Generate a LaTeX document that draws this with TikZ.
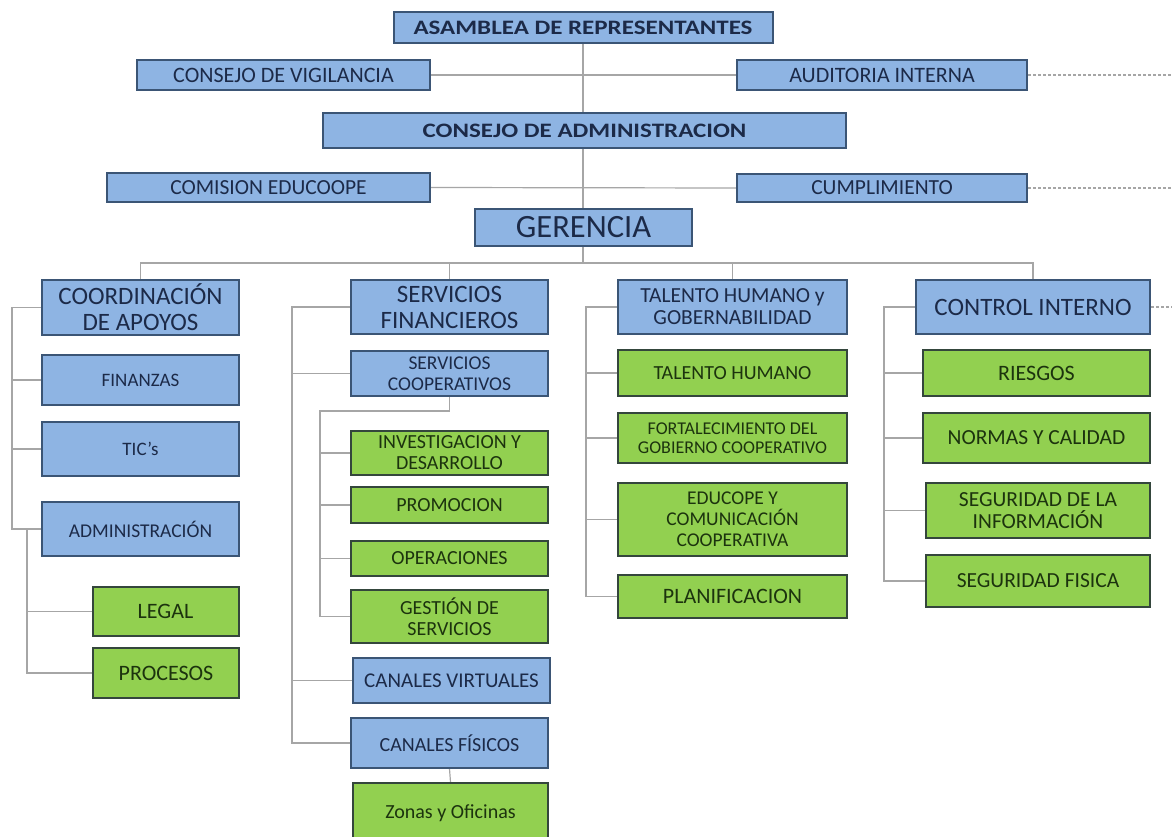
\documentclass[tikz,border=0pt]{standalone}
\usepackage{fontspec}
\setmainfont{Carlito}
\newfontfamily\titlefont{Carlito}[FakeStretch=1.22]
\usetikzlibrary{backgrounds}

\definecolor{boxblue}{HTML}{8EB4E3}
\definecolor{edgeblue}{HTML}{3B5575}
\definecolor{txtblue}{HTML}{1C2A48}
\definecolor{boxgreen}{HTML}{92D050}
\definecolor{edgegreen}{HTML}{34463C}
\definecolor{txtgreen}{HTML}{1C330E}
\definecolor{linegray}{HTML}{A6A6A6}

\tikzset{
  box/.style={draw, line width=2pt, inner sep=1pt, align=center},
  bluebox/.style={box, fill=boxblue, draw=edgeblue, text=txtblue},
  greenbox/.style={box, fill=boxgreen, draw=edgegreen, text=txtgreen},
  wh/.style 2 args={minimum width=#1pt, minimum height=#2pt},
  fs/.style 2 args={font=\fontsize{#1}{#2}\selectfont},
  fsb/.style 2 args={font=\titlefont\bfseries\fontsize{#1}{#2}\selectfont},
  link/.style={draw=linegray, line width=1.2pt},
  ext/.style={link, dash pattern=on 3pt off 2pt}
}

\begin{document}
\begin{tikzpicture}[x=1pt, y=-1pt]
\useasboundingbox (0,0) rectangle (1172,837);
\begin{scope}[on background layer]
  \fill[white] (0,0) rectangle (1172,837);
\end{scope}

% governing bodies
\node[bluebox, wh={379}{31}, fsb={20.5}{24}] (asam) at (583,27.5) {ASAMBLEA DE REPRESENTANTES};
\node[bluebox, wh={293}{30}, fs={22}{24}] (vig) at (283.5,75) {CONSEJO DE VIGILANCIA};
\node[bluebox, wh={290}{30}, fs={22}{24}] (aud) at (882,75) {AUDITORIA INTERNA};
\node[bluebox, wh={523}{35}, fsb={20.5}{24}] (cadm) at (584.5,130.5) {CONSEJO DE ADMINISTRACION};
\node[bluebox, wh={323}{29}, fs={21.5}{24}] (com) at (268.5,187.5) {COMISION EDUCOOPE};
\node[bluebox, wh={290}{28}, fs={21.5}{24}] (cum) at (882,188) {CUMPLIMIENTO};
\node[bluebox, wh={217}{37}, fs={32.5}{34}] (ger) at (583.5,227.5) {GERENCIA};

% coordinacion de apoyos
\node[bluebox, wh={197}{55}, fs={25}{26}] (coord) at (140.5,307.5) {COORDINACIÓN\\DE APOYOS};
\node[bluebox, wh={197}{50}, fs={19}{21}] (fin) at (140.5,380) {FINANZAS};
\node[bluebox, wh={197}{54}, fs={19}{21}] (tic) at (140.5,449) {TIC's};
\node[bluebox, wh={197}{54}, fs={19.5}{21}] (adm) at (140.5,529) {ADMINISTRACIÓN};
\node[greenbox, wh={146}{49}, fs={22}{24}] (legal) at (165.5,611.5) {LEGAL};
\node[greenbox, wh={146}{50}, fs={22}{24}] (proc) at (166,673) {PROCESOS};

% servicios financieros
\node[bluebox, wh={197}{54}, fs={25}{26}] (sf) at (449.5,307) {SERVICIOS\\FINANCIEROS};
\node[bluebox, wh={197}{45}, fs={19.5}{21}] (sc) at (449.5,373.5) {SERVICIOS\\COOPERATIVOS};
\node[greenbox, wh={197}{44}, fs={20}{21}] (inv) at (449.5,453) {INVESTIGACION Y\\DESARROLLO};
\node[greenbox, wh={197}{36}, fs={20}{21}] (prom) at (449.5,505) {PROMOCION};
\node[greenbox, wh={197}{35}, fs={20}{21}] (oper) at (449.5,558.5) {OPERACIONES};
\node[greenbox, wh={197}{53}, fs={20}{20.5}] (gest) at (449.5,616.5) {GESTIÓN DE\\SERVICIOS};
\node[bluebox, wh={197}{45}, fs={21}{22}] (cv) at (451.5,680.5) {CANALES VIRTUALES};
\node[bluebox, wh={197}{50}, fs={20}{22}] (cfis) at (449.5,743) {CANALES FÍSICOS};
\node[greenbox, wh={195}{60}, fs={20}{22}] (zonas) at (450.5,813) {Zonas y Oficinas};

% talento humano y gobernabilidad
\node[bluebox, wh={229}{54}, fs={21.5}{22}] (thg) at (732.5,307) {TALENTO HUMANO y\\GOBERNABILIDAD};
\node[greenbox, wh={229}{46}, fs={20}{22}] (th) at (732.5,373) {TALENTO HUMANO};
\node[greenbox, wh={229}{50}, fs={18}{19.5}] (fort) at (732.5,438) {FORTALECIMIENTO DEL\\GOBIERNO COOPERATIVO};
\node[greenbox, wh={229}{73}, fs={19.5}{21}] (edu) at (732.5,519.5) {EDUCOPE Y\\COMUNICACIÓN\\COOPERATIVA};
\node[greenbox, wh={229}{43}, fs={22}{24}] (plan) at (732.5,596.5) {PLANIFICACION};

% control interno
\node[bluebox, wh={234}{54}, fs={25}{26}] (ci) at (1033,307) {CONTROL INTERNO};
\node[greenbox, wh={227}{46}, fs={22}{24}] (ries) at (1036.5,373) {RIESGOS};
\node[greenbox, wh={227}{50}, fs={21.5}{24}] (norm) at (1036.5,438) {NORMAS Y CALIDAD};
\node[greenbox, wh={224}{55}, fs={21.5}{22}] (seginf) at (1038,510.5) {SEGURIDAD DE LA\\INFORMACIÓN};
\node[greenbox, wh={224}{52}, fs={21.5}{24}] (segfis) at (1038,581) {SEGURIDAD FISICA};

% anchor points of the connector network
\coordinate (bus) at (583,263);
\coordinate (sp1) at (12,0);
\coordinate (sp1b) at (27,0);
\coordinate (sp2) at (292,0);
\coordinate (sp2b) at (320,0);
\coordinate (sp3) at (586,0);
\coordinate (sp4) at (884,0);
\coordinate (edge) at (1172,0);

\begin{scope}[on background layer]
  % main trunk and top-level branches
  \draw[link] (asam.south) -- (bus);
  \draw[link] (vig.east) -- (aud.west);
  \draw[link] (com.east) -- (cum.west);
  \draw[link] (bus) -| (coord.north);
  \draw[link] (bus) -| (sf.north);
  \draw[link] (bus) -| (thg.north);
  \draw[link] (bus) -| (ci.north);
  % links leaving the chart
  \draw[ext] (aud.east) -- (aud.east -| edge);
  \draw[ext] (cum.east) -- (cum.east -| edge);
  \draw[ext] (ci.east) -- (ci.east -| edge);

  % coordinacion de apoyos
  \draw[link] (coord.west) -- (coord.west -| sp1) -- (adm.west -| sp1) -- (adm.west);
  \draw[link] (fin.west -| sp1) -- (fin.west);
  \draw[link] (tic.west -| sp1) -- (tic.west);
  \draw[link] (adm.west -| sp1b) -- (proc.west -| sp1b) -- (proc.west);
  \draw[link] (legal.west -| sp1b) -- (legal.west);

  % servicios financieros
  \draw[link] (sf.west) -- (sf.west -| sp2) -- (cfis.west -| sp2) -- (cfis.west);
  \draw[link] (sc.west -| sp2) -- (sc.west);
  \draw[link] (cv.west -| sp2) -- (cv.west);
  \draw[link] (sc.south) -- ++(0,14) -| (gest.west -| sp2b) -- (gest.west);
  \draw[link] (inv.west -| sp2b) -- (inv.west);
  \draw[link] (prom.west -| sp2b) -- (prom.west);
  \draw[link] (oper.west -| sp2b) -- (oper.west);
  \draw[link] (cfis.south) -- (zonas.north);

  % talento humano y gobernabilidad
  \draw[link] (thg.west) -- (thg.west -| sp3) -- (plan.west -| sp3) -- (plan.west);
  \draw[link] (th.west -| sp3) -- (th.west);
  \draw[link] (fort.west -| sp3) -- (fort.west);
  \draw[link] (edu.west -| sp3) -- (edu.west);

  % control interno
  \draw[link] (ci.west) -- (ci.west -| sp4) -- (segfis.west -| sp4) -- (segfis.west);
  \draw[link] (ries.west -| sp4) -- (ries.west);
  \draw[link] (norm.west -| sp4) -- (norm.west);
  \draw[link] (seginf.west -| sp4) -- (seginf.west);
\end{scope}
\end{tikzpicture}
\end{document}
